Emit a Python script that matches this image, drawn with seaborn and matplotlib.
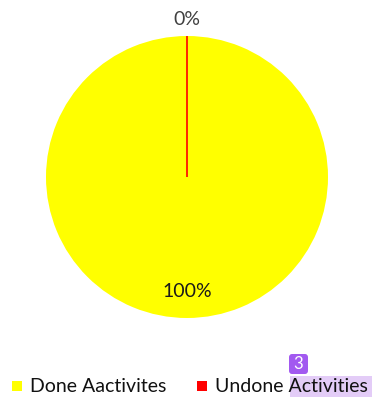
import matplotlib
matplotlib.use("Agg")
import matplotlib.pyplot as plt
import seaborn as sns
from matplotlib.patches import Rectangle, FancyBboxPatch

categories = ["Done Aactivites", "Undone Activities"]
values = [100, 0]
pct_labels = ["100%", "0%"]
colors = ["#FFFF00", "#FF0000"]

sns.set_theme(style="white")
plt.rcParams['font.family'] = ['Lato', 'DejaVu Sans']

W, H = 372, 398
fig = plt.figure(figsize=(W / 100, H / 100), dpi=100)
cx, cy, r = 187, 177, 141
ax = fig.add_axes([(cx - r) / W, 1 - (cy + r) / H, 2 * r / W, 2 * r / H])

wedges, _ = ax.pie(values, colors=colors, startangle=90, counterclock=False,
                   radius=1.0, wedgeprops=dict(linewidth=0))
wedges[1].set_edgecolor("#FF0000")
wedges[1].set_linewidth(1.2)
ax.set_xlim(-1, 1)
ax.set_ylim(-1, 1)
ax.set_aspect("equal")
ax.axis("off")

# percentage labels
ax.text(0, -0.81, pct_labels[0], ha="center", va="center", fontsize=14, color="#1a1a1a")
ax.text(0, 1.12, pct_labels[1], ha="center", va="center", fontsize=14, color="#404040")

# highlight behind "Activities"
fig.patches.append(Rectangle((290 / W, 1 - 397 / H), 82 / W, 21 / H,
                             transform=fig.transFigure, facecolor="#E3CCF7",
                             edgecolor="none", zorder=0))
fig.patches.append(FancyBboxPatch((289 / W, 1 - 374 / H), 19 / W, 20 / H,
                                  boxstyle="round,pad=0,rounding_size=0.008",
                                  transform=fig.transFigure, facecolor="#A259F0",
                                  edgecolor="none", zorder=1))
fig.text(298.5 / W, 1 - 364 / H, "3", ha="center", va="center", color="white", fontsize=12)

# legend (manual placement)
leg_y = 386
sq = [(12, 197), (30, 215)]
for i, (c, lab) in enumerate(zip(colors, categories)):
    x0 = sq[0][i]
    fig.patches.append(Rectangle((x0 / W, 1 - (leg_y + 5) / H), 10 / W, 10 / H,
                                 transform=fig.transFigure, facecolor=c,
                                 edgecolor="none", zorder=2))
    fig.text(sq[1][i] / W, 1 - leg_y / H, lab, ha="left", va="center",
             fontsize=14, color="#111111", zorder=3)

fig.savefig("out.png", dpi=100, facecolor="white")
